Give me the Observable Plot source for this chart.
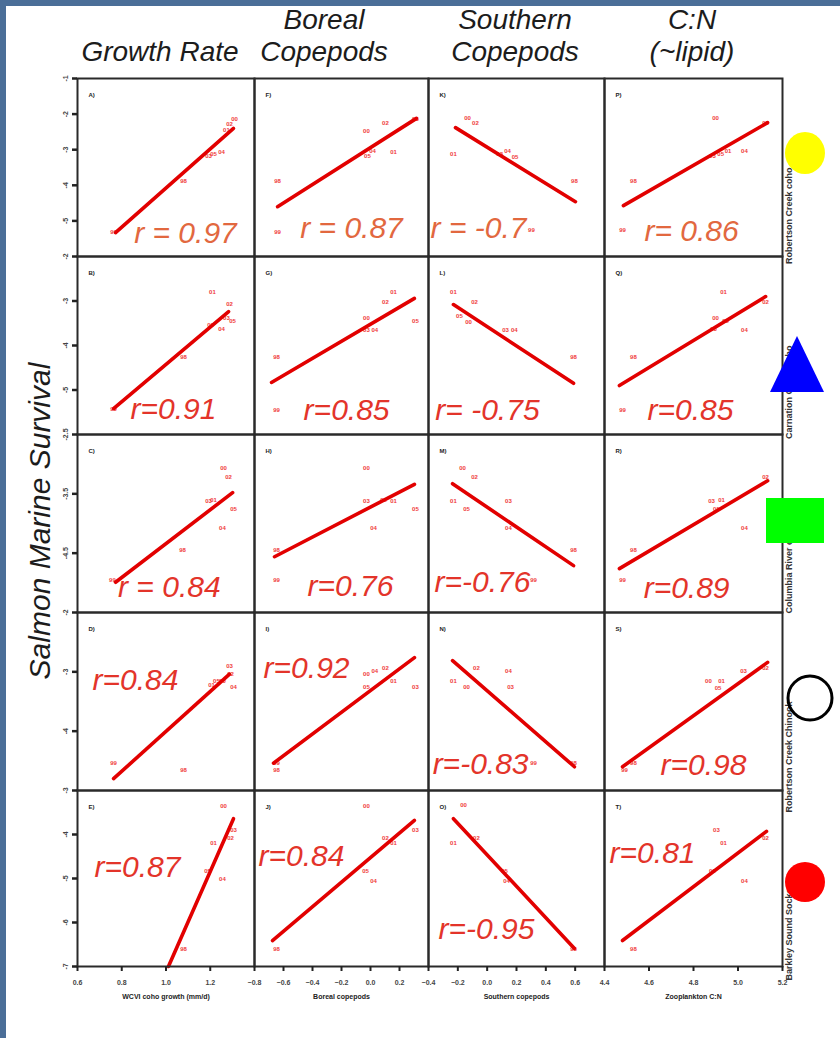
<!DOCTYPE html>
<html><head><meta charset="utf-8">
<script src="https://cdn.jsdelivr.net/npm/d3@7"></script>
<script src="https://cdn.jsdelivr.net/npm/@observablehq/plot@0.6"></script>
<style>
html,body{margin:0;padding:0;}
body{width:840px;height:1038px;background:#4b6e98;overflow:hidden;position:relative;font-family:"Liberation Sans",Arial,sans-serif;}
#sheet{position:absolute;left:6px;top:6px;width:834px;height:1032px;background:#fff;}
#root{position:absolute;left:0;top:0;width:840px;height:1038px;}
.hdr{position:absolute;font-style:italic;font-size:28px;color:#1c1c1c;text-align:center;line-height:32px;transform:translateX(-50%);white-space:nowrap;}
.ytitle{position:absolute;left:40px;top:521px;font-style:italic;font-size:30px;color:#1c1c1c;white-space:nowrap;transform:translate(-50%,-50%) rotate(-90deg);}
</style></head><body>
<div id="sheet"></div><div id="root"></div>
<script>
// ---------- data ----------
const columnHeaders = [["Growth Rate"], ["Boreal", "Copepods"], ["Southern", "Copepods"], ["C:N", "(~lipid)"]];
const xAxisTitles = ["WCVI coho growth (mm/d)", "Boreal copepods", "Southern copepods", "Zooplankton C:N"];
const xDomains = [[0.6, 1.4], [-0.8, 0.4], [-0.4, 0.8], [4.4, 5.2]];
const xTickValues = [[0.6, 0.8, 1.0, 1.2], [-0.8, -0.6, -0.4, -0.2, 0.0, 0.2], [-0.4, -0.2, 0.0, 0.2, 0.4, 0.6], [4.4, 4.6, 4.8, 5.0, 5.2]];
const rowLabels = ["Robertson Creek coho", "Carnation Creek coho", "Columbia River coho", "Robertson Creek Chinook", "Barkley Sound Sockeye"];
const yDomains = [[-6, -1], [-6, -2], [-5.5, -2.5], [-5, -2], [-7, -3]];
const yTickValues = [[-1, -2, -3, -4, -5, -6], [-2, -3, -4, -5, -6], [-2.5, -3.5, -4.5, -5.5], [-2, -3, -4, -5], [-3, -4, -5, -6, -7]];
const yTitle = "Salmon Marine Survival";
const panelLetters = ["ABCDE", "FGHIJ", "KLMNO", "PQRST"];

const rGrowth   = ["r = 0.97", "r=0.91", "r = 0.84", "r=0.84", "r=0.87"];
const rBoreal   = ["r = 0.87", "r=0.85", "r=0.76", "r=0.92", "r=0.84"];
const rSouthern = ["r = -0.7", "r= -0.75", "r=-0.76", "r=-0.83", "r=-0.95"];
const rCN       = ["r= 0.86", "r=0.85", "r=0.89", "r=0.98", "r=0.81"];

// points: [x, survival, year label], one list per row (panels A-E, F-J, K-O, P-T)
const ptsGrowth = [
  [[1.310,-2.15,"00"],[1.287,-2.29,"02"],[1.273,-2.46,"01"],[1.251,-3.08,"04"],[1.192,-3.19,"03"],[1.215,-3.11,"05"],[1.079,-3.89,"98"],[0.763,-5.30,"99"]],
  [[1.210,-2.79,"01"],[1.287,-3.06,"02"],[1.273,-3.39,"03"],[1.301,-3.46,"05"],[1.251,-3.62,"04"],[1.201,-3.55,"00"],[1.079,-4.25,"98"],[0.763,-5.42,"99"]],
  [[1.260,-3.06,"00"],[1.283,-3.21,"02"],[1.192,-3.63,"03"],[1.215,-3.61,"01"],[1.305,-3.76,"05"],[1.255,-4.07,"04"],[1.075,-4.44,"98"],[0.758,-4.96,"99"]],
  [[1.287,-2.91,"03"],[1.292,-3.03,"02"],[1.206,-3.23,"01"],[1.228,-3.16,"05"],[1.305,-3.25,"04"],[1.255,-3.15,"00"],[1.079,-4.66,"98"],[0.763,-4.54,"99"]],
  [[1.260,-3.36,"00"],[1.305,-3.91,"03"],[1.292,-4.09,"02"],[1.215,-4.20,"01"],[1.188,-4.82,"05"],[1.255,-5.02,"04"],[1.079,-6.61,"98"]]
];
const ptsBoreal = [
  [[0.310,-2.15,"03"],[0.103,-2.24,"02"],[-0.028,-2.49,"00"],[0.159,-3.08,"01"],[0.014,-3.05,"04"],[-0.021,-3.19,"05"],[-0.641,-3.89,"98"],[-0.641,-5.30,"99"]],
  [[0.159,-2.79,"01"],[0.103,-3.03,"02"],[-0.028,-3.39,"00"],[-0.028,-3.66,"03"],[0.030,-3.66,"04"],[0.310,-3.46,"05"],[-0.648,-4.25,"98"],[-0.648,-5.44,"99"]],
  [[-0.028,-3.06,"00"],[0.090,-3.61,"02"],[-0.028,-3.63,"03"],[0.159,-3.63,"01"],[0.310,-3.76,"05"],[0.021,-4.07,"04"],[-0.648,-4.44,"98"],[-0.648,-4.96,"99"]],
  [[0.103,-2.93,"02"],[-0.028,-3.03,"00"],[0.030,-2.99,"04"],[-0.028,-3.25,"05"],[0.159,-3.15,"01"],[0.310,-3.25,"03"],[-0.648,-4.54,"99"],[-0.648,-4.66,"98"]],
  [[-0.028,-3.36,"00"],[0.310,-3.89,"03"],[0.103,-4.09,"02"],[0.159,-4.20,"01"],[-0.034,-4.82,"05"],[0.021,-5.05,"04"],[-0.648,-6.61,"98"]]
];
const ptsSouthern = [
  [[-0.134,-2.12,"00"],[-0.080,-2.24,"02"],[-0.230,-3.11,"01"],[0.139,-3.05,"04"],[0.190,-3.20,"05"],[0.085,-3.11,"03"],[0.595,-3.89,"98"],[0.302,-5.27,"99"]],
  [[-0.230,-2.79,"01"],[-0.086,-3.03,"02"],[-0.127,-3.48,"00"],[-0.189,-3.35,"05"],[0.125,-3.66,"03"],[0.185,-3.66,"04"],[0.589,-4.25,"98"]],
  [[-0.168,-3.06,"00"],[-0.086,-3.21,"02"],[-0.230,-3.63,"01"],[-0.141,-3.76,"05"],[0.145,-3.63,"03"],[0.145,-4.07,"04"],[0.589,-4.44,"98"],[0.316,-4.96,"99"]],
  [[-0.073,-2.93,"02"],[0.145,-2.98,"04"],[-0.230,-3.15,"01"],[-0.141,-3.25,"00"],[0.159,-3.25,"03"],[0.316,-4.54,"99"],[0.589,-4.54,"98"]],
  [[-0.161,-3.34,"00"],[-0.073,-4.09,"02"],[-0.230,-4.20,"01"],[0.118,-4.82,"05"],[0.132,-5.05,"04"],[0.589,-6.61,"98"]]
];
const ptsCN = [
  [[4.899,-2.12,"00"],[5.124,-2.24,"02"],[4.885,-3.19,"03"],[4.922,-3.13,"05"],[4.955,-3.05,"01"],[5.029,-3.05,"04"],[4.530,-3.89,"98"],[4.481,-5.27,"99"]],
  [[4.935,-2.79,"01"],[5.124,-3.03,"02"],[4.899,-3.39,"00"],[4.890,-3.64,"03"],[4.944,-3.46,"05"],[5.029,-3.66,"04"],[4.530,-4.25,"98"],[4.481,-5.44,"99"]],
  [[5.124,-3.21,"02"],[4.881,-3.63,"03"],[4.926,-3.61,"01"],[4.903,-3.76,"05"],[5.029,-4.07,"04"],[4.530,-4.44,"98"],[4.481,-4.96,"99"]],
  [[5.124,-2.93,"02"],[5.025,-2.99,"03"],[4.926,-3.15,"01"],[4.910,-3.27,"05"],[4.867,-3.15,"00"],[4.530,-4.54,"98"],[4.490,-4.66,"99"]],
  [[4.903,-3.89,"03"],[5.124,-4.09,"02"],[4.935,-4.20,"01"],[4.885,-4.82,"05"],[5.029,-5.05,"04"],[4.530,-6.61,"98"]]
];

// fitted lines: [x1, y1, x2, y2]
const fitsGrowth   = [[0.772,-5.33,1.305,-2.40],[0.763,-5.42,1.283,-3.24],[0.772,-4.99,1.301,-3.48],[0.763,-4.80,1.287,-3.04],[1.011,-7.0,1.305,-3.64]];
const fitsBoreal   = [[-0.641,-4.60,0.317,-2.12],[-0.683,-4.83,0.303,-2.94],[-0.662,-4.56,0.303,-3.34],[-0.669,-4.54,0.303,-2.76],[-0.676,-6.41,0.303,-3.68]];
const fitsSouthern = [[-0.216,-2.38,0.602,-4.46],[-0.230,-3.08,0.589,-4.85],[-0.236,-3.33,0.589,-4.71],[-0.236,-2.81,0.595,-4.60],[-0.230,-3.64,0.595,-6.59]];
const fitsCN       = [[4.485,-4.57,5.133,-2.24],[4.467,-4.90,5.124,-2.90],[4.467,-4.76,5.133,-3.28],[4.481,-4.60,5.133,-2.84],[4.481,-6.41,5.128,-3.93]];

// ---------- layout ----------
const rAnchor = [
  [[1.088,-5.35],[1.034,-5.44],[1.015,-5.08],[0.862,-3.15],[0.871,-4.75]],
  [[-0.131,-5.21],[-0.165,-5.46],[-0.138,-5.06],[-0.441,-2.94],[-0.476,-4.50]],
  [[-0.059,-5.21],[0.002,-5.46],[-0.032,-4.99],[-0.045,-4.56],[-0.005,-6.16]],
  [[4.791,-5.30],[4.786,-5.46],[4.769,-5.10],[4.845,-4.58],[4.616,-4.43]]
];
const colX = [77, 254, 428, 604, 782];
const rowY = [78, 256, 434, 612, 790, 966];
const headerX = [160, 324, 515, 692];
const font = "'Liberation Sans', Arial, Helvetica, sans-serif";
const ptsByCol = [ptsGrowth, ptsBoreal, ptsSouthern, ptsCN];
const fitsByCol = [fitsGrowth, fitsBoreal, fitsSouthern, fitsCN];
const rByCol = [rGrowth, rBoreal, rSouthern, rCN];

const root = document.getElementById("root");

// headers
columnHeaders.forEach((lines, c) => {
  const d = document.createElement("div");
  d.className = "hdr";
  d.style.left = headerX[c] + "px";
  d.style.top = (lines.length === 1 ? 36 : 4) + "px";
  d.innerHTML = lines.join("<br>");
  root.appendChild(d);
});
const yt = document.createElement("div");
yt.className = "ytitle";
yt.textContent = yTitle;
root.appendChild(yt);

for (let r = 0; r < 5; r++) {
  for (let c = 0; c < 4; c++) {
    const w = colX[c + 1] - colX[c], h = rowY[r + 1] - rowY[r];
    const ml = c === 0 ? 40 : 0;
    const mb = r === 4 ? 50 : 0;
    const pts = ptsByCol[c][r].map(([x, y, t]) => ({x, y, t}));
    const f = fitsByCol[c][r];
    const [ax, ay] = rAnchor[c][r];
    const marks = [
      Plot.text(pts, {x: "x", y: "y", text: "t", fill: "#f03c3c", fontSize: 6, fontWeight: "bold", fontFamily: font}),
      Plot.link([f], {x1: d => d[0], y1: d => d[1], x2: d => d[2], y2: d => d[3], stroke: "#e20000", strokeWidth: 3.6, strokeLinecap: "round"}),
      Plot.text([rByCol[c][r]], {x: () => ax, y: () => ay, text: d => d, fontSize: 30, fontStyle: "italic", fontFamily: font, fill: r === 0 ? "#e2683f" : "#e3342a"}),
      Plot.text([panelLetters[c][r] + ")"], {frameAnchor: "top-left", dx: 11, dy: 14, fontSize: 6, fontWeight: "bold", fill: "#222", fontFamily: font}),
      Plot.frame({stroke: "#2a2a2a", strokeWidth: 2})
    ];
    if (c === 0) {
      const ticks = r < 4 ? yTickValues[r].slice(0, -1) : yTickValues[r];
      marks.push(Plot.axisY(ticks, {label: null, tickSize: 5, tickPadding: 5, tickRotate: -90, fontSize: 7, fontWeight: "bold", tickFormat: d => String(d), stroke: "#222", strokeWidth: 2.5, fill: "#444", fontFamily: font}));
    }
    if (r === 4) {
      marks.push(Plot.axisX(xTickValues[c], {label: null, tickSize: 5, tickPadding: 9, fontSize: 7, fontWeight: "bold", tickFormat: d3.format(".1f"), stroke: "#222", strokeWidth: 2, fill: "#444", fontFamily: font}));
      marks.push(Plot.text([xAxisTitles[c]], {frameAnchor: "bottom", dy: 32, fontSize: 7, fontWeight: "bold", fill: "#222", fontFamily: font}));
    }
    if (c === 3) {
      marks.push(Plot.text([rowLabels[r]], {frameAnchor: "right", dx: 7, rotate: -90, fontSize: 9, fontWeight: "bold", fill: "#333", fontFamily: font}));
    }
    const plot = Plot.plot({
      width: w + ml, height: h + mb,
      marginLeft: ml, marginRight: 0, marginTop: 0, marginBottom: mb,
      x: Object.assign({domain: xDomains[c]}, r === 4 ? {} : {axis: null}),
      y: Object.assign({domain: yDomains[r]}, c === 0 ? {} : {axis: null}),
      style: {overflow: "visible", background: "transparent", fontFamily: font},
      marks
    });
    plot.style.position = "absolute";
    plot.style.left = (colX[c] - ml) + "px";
    plot.style.top = rowY[r] + "px";
    root.appendChild(plot);
  }
}

// species markers on the right
const ov = d3.select(root).append("svg").attr("width", 840).attr("height", 1038)
  .style("position", "absolute").style("left", "0px").style("top", "0px").style("overflow", "visible");
ov.append("ellipse").attr("cx", 805).attr("cy", 153).attr("rx", 20).attr("ry", 21).attr("fill", "#ffff00");
ov.append("path").attr("d", "M797,336L824,392L770,392Z").attr("fill", "#0000ff");
ov.append("rect").attr("x", 766).attr("y", 498).attr("width", 58).attr("height", 45).attr("fill", "#00ff00");
ov.append("circle").attr("cx", 810).attr("cy", 698).attr("r", 22).attr("fill", "none").attr("stroke", "#000").attr("stroke-width", 3);
ov.append("circle").attr("cx", 805).attr("cy", 882).attr("r", 20).attr("fill", "#ff0000");
</script></body></html>
